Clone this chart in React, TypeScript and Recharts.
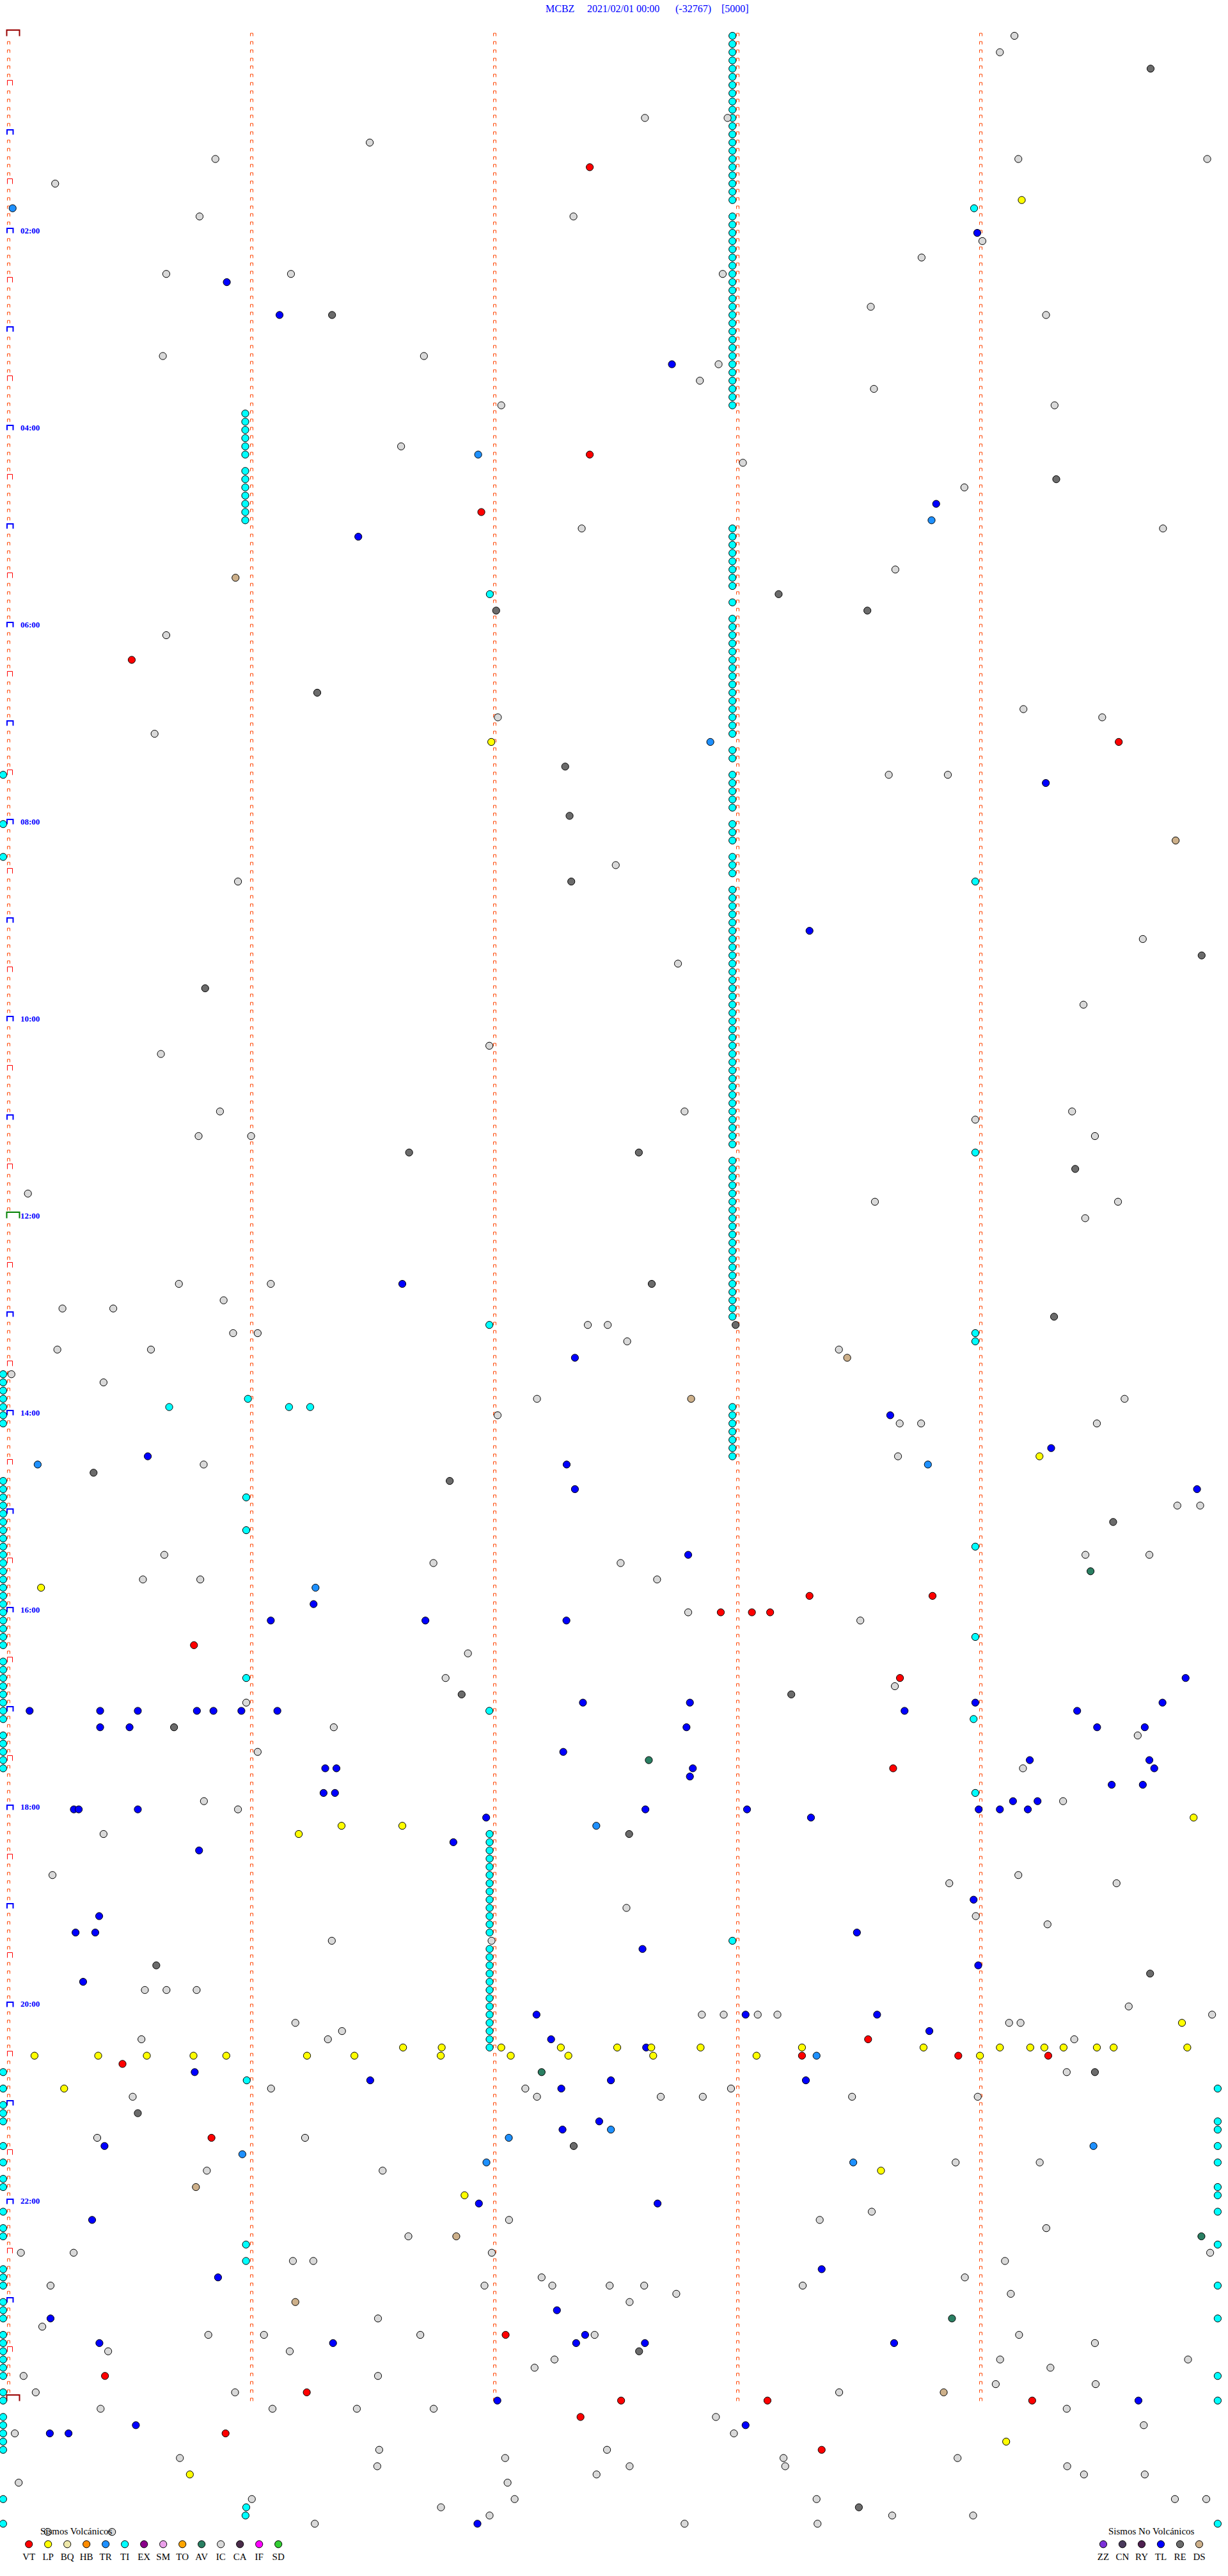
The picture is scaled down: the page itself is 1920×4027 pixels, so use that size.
import React from 'react';
import { ScatterChart, Scatter, XAxis, YAxis } from 'recharts';

type Ev = [number, number]; // [helicorder line (5-min row), minute within line]

const TITLE_PARTS = ['MCBZ', '2021/02/01 00:00', '(-32767)', '[5000]'];
const TITLE_X = [853, 918, 1056, 1128];
const HOUR_LABELS = ['02:00', '04:00', '06:00', '08:00', '10:00', '12:00', '14:00', '16:00', '18:00', '20:00', '22:00'];
const HOUR_LABEL_LINES = [24, 48, 72, 96, 120, 144, 168, 192, 216, 240, 264];
const LINES_WITH_TICKS = 288;
const TICK_COLUMNS = [0, 1, 2, 3, 4];

const VOLC_TYPES = ['VT', 'LP', 'BQ', 'HB', 'TR', 'TI', 'EX', 'SM', 'TO', 'AV', 'IC', 'CA', 'IF', 'SD'];
const VOLC_COLORS = ['#ff0000', '#ffff00', '#eee8aa', '#ff8c00', '#1e90ff', '#00ffff', '#8b008b', '#eaa0ea', '#ffa500', '#2a7f62', '#d9d9d9', '#4a2c4a', '#ff00ff', '#32cd32'];
const NONVOLC_TYPES = ['ZZ', 'CN', 'RY', 'TL', 'RE', 'DS'];
const NONVOLC_COLORS = ['#7b30d8', '#4a3a5c', '#4e2050', '#0000ff', '#6b6b6b', '#cdb08a'];

// Long TI (tremor) runs: lines where a cyan mark appears, at a fixed minute
const TI_RUN_A_MIN = 2.98;
const TI_RUN_A_LINES = [0, 1, 2, 3, 4, 5, 6, 7, 8, 9, 10, 11, 12, 13, 14, 15, 16, 17, 18, 19, 20,
  22, 23, 24, 25, 26, 27, 28, 29, 30, 31, 32, 33, 34, 35, 36, 37, 38, 39, 40, 41, 42, 43, 44, 45,
  60, 61, 62, 63, 64, 65, 66, 67, 69, 71, 72, 73, 74, 75, 76, 77, 78, 79, 80, 81, 82, 83, 84, 85,
  87, 88, 90, 91, 92, 93, 94, 96, 97, 98, 100, 101, 102,
  104, 105, 106, 107, 108, 109, 110, 111, 112, 113, 114, 115, 116, 117, 118, 119, 120, 121, 122, 123, 124, 125, 126, 127, 128, 129, 130, 131, 132, 133, 134, 135,
  137, 138, 139, 140, 141, 142, 143, 144, 145, 146, 147, 148, 149, 150, 151, 152, 153, 154, 155, 156,
  167, 168, 169, 170, 171, 172, 173, 232];
const TI_RUN_B_MIN = 0.976;
const TI_RUN_B_LINES = [46, 47, 48, 49, 50, 51, 53, 54, 55, 56, 57, 58, 59];
const TI_RUN_C_MIN = 1.981;
const TI_RUN_C_LINES = [219, 220, 221, 222, 223, 224, 225, 226, 227, 228, 229, 230, 231, 233, 234, 235, 236, 237, 238, 239, 240, 241, 242, 243, 244, 245];
const TI_LEFT_MIN = -0.02;
const TI_LEFT_LINES = [90, 96, 100, 163, 164, 165, 166, 167, 168, 169, 176, 177, 178, 179, 180, 181, 182, 183, 184, 185, 186, 187, 188, 189, 190, 191, 192, 193, 194, 195, 196,
  198, 199, 200, 201, 202, 203, 204, 205, 207, 208, 209, 210, 211,
  248, 250, 252, 253, 254, 257, 259, 261, 262, 265, 267, 268, 272, 273, 274, 276, 277, 278, 280, 281, 282, 283, 284, 285, 287, 288, 290, 291, 292, 293, 294, 300, 303];
const TI_RIGHT_MIN = 4.976;
const TI_RIGHT_LINES = [250, 254, 255, 257, 259, 262, 263, 265, 269, 274, 278, 285, 288, 303];
const TI_OTHER: Ev[] = [[21, 3.974], [68, 1.982], [103, 3.979], [136, 3.979], [157, 1.98], [158, 3.979], [159, 3.979], [166, 0.987], [167, 0.663], [167, 1.156], [167, 1.243],
  [178, 0.98], [182, 0.98], [184, 3.979], [195, 3.979], [200, 0.98], [204, 1.98], [205, 3.972], [214, 3.979], [249, 0.982], [269, 0.979], [271, 0.979], [301, 0.98], [302, 0.977]];

const IC: Ev[] = [[0, 4.14], [2, 4.08], [10, 2.62], [10, 2.96], [13, 1.488], [15, 0.853], [15, 4.933], [15, 4.156], [18, 0.194], [22, 2.326], [22, 0.788], [25, 4.008], [27, 3.758],
  [29, 0.651], [29, 1.164], [29, 2.94], [33, 3.549], [34, 4.27], [39, 0.637], [39, 1.711], [40, 2.923], [42, 2.846], [43, 3.562], [45, 2.029], [45, 4.305], [50, 1.617], [52, 3.023],
  [55, 3.934], [60, 2.36], [60, 4.751], [65, 3.65], [73, 0.651], [82, 4.177], [83, 2.015], [83, 4.501], [85, 0.603], [90, 3.623], [90, 3.866], [101, 2.5], [103, 0.946], [110, 4.668],
  [113, 2.756], [118, 4.424], [123, 1.98], [124, 0.629], [131, 0.872], [131, 2.783], [131, 4.377], [132, 3.979], [134, 0.784], [134, 1.0], [134, 4.471], [141, 0.082], [142, 3.566],
  [142, 4.566], [144, 4.431], [152, 0.703], [152, 1.081], [154, 0.887], [155, 0.224], [155, 0.433], [157, 2.385], [157, 2.467], [158, 0.926], [158, 1.027], [159, 2.547], [160, 0.203],
  [160, 0.588], [160, 3.418], [163, 0.014], [164, 0.393], [166, 2.176], [166, 4.593], [168, 2.014], [169, 3.668], [169, 3.756], [169, 4.479], [173, 3.661], [174, 0.805], [179, 4.81],
  [179, 4.904], [185, 4.432], [185, 4.695], [185, 0.643], [186, 1.75], [186, 2.52], [188, 0.555], [188, 0.791], [188, 2.67], [192, 2.798], [193, 3.506], [197, 1.892], [200, 1.8],
  [201, 3.648], [203, 0.98], [206, 1.34], [207, 4.647], [209, 1.027], [211, 4.175], [215, 0.806], [215, 4.34], [216, 0.946], [219, 0.393], [224, 0.183], [224, 4.156], [225, 3.872],
  [225, 4.56], [228, 2.544], [229, 3.981], [230, 4.276], [232, 1.332], [232, 1.989], [238, 0.563], [238, 0.652], [238, 0.776], [240, 4.61], [241, 2.854], [241, 2.944], [241, 3.084],
  [241, 3.165], [241, 4.953], [242, 1.182], [242, 4.118], [242, 4.165], [243, 1.374], [244, 1.316], [244, 0.549], [244, 4.386], [248, 4.355], [250, 1.082], [250, 2.128], [250, 2.974],
  [251, 0.513], [251, 2.176], [251, 2.685], [251, 2.858], [251, 3.472], [251, 3.989], [256, 0.367], [256, 1.222], [259, 3.898], [259, 4.244], [260, 0.818], [260, 1.541], [265, 3.553],
  [266, 2.061], [266, 3.339], [267, 4.271], [268, 1.647], [270, 0.053], [270, 0.27], [270, 1.99], [270, 4.945], [271, 1.172], [271, 1.256], [271, 4.101], [273, 2.195], [273, 3.936],
  [274, 0.175], [274, 1.96], [274, 2.239], [274, 2.475], [274, 2.617], [274, 3.269], [275, 2.749], [275, 4.125], [276, 2.557], [278, 1.522], [279, 0.141], [280, 0.824], [280, 1.053],
  [280, 1.696], [280, 2.413], [280, 4.159], [281, 4.471], [282, 0.412], [282, 1.159], [283, 2.248], [283, 4.081], [283, 4.854], [284, 2.166], [284, 4.288], [285, 0.064], [285, 1.522],
  [286, 4.063], [286, 4.474], [287, 0.114], [287, 0.934], [287, 3.419], [289, 0.381], [289, 1.088], [289, 1.435], [289, 1.751], [289, 4.355], [290, 2.912], [291, 4.672], [292, 0.028],
  [292, 2.986], [294, 1.527], [294, 2.464], [295, 0.707], [295, 2.045], [295, 3.19], [295, 3.906], [296, 1.519], [296, 2.557], [296, 3.197], [296, 4.357], [297, 2.421], [297, 4.426],
  [297, 4.676], [298, 0.044], [298, 2.055], [300, 1.003], [300, 2.084], [300, 3.326], [300, 4.8], [300, 4.929], [301, 1.781], [302, 1.981], [302, 3.637], [302, 3.97], [303, 1.262],
  [303, 2.783], [303, 3.33], [304, 0.164], [304, 0.428]];

const TL: Ev[] = [[24, 3.987], [30, 0.9], [34, 1.117], [40, 2.731], [57, 3.818], [61, 1.441], [91, 4.269], [109, 3.297], [152, 1.622], [161, 2.332], [168, 3.629], [172, 4.291],
  [173, 0.575], [174, 2.298], [177, 2.332], [177, 4.891], [185, 2.798], [191, 1.257], [193, 1.081], [193, 1.717], [193, 2.297], [200, 4.844], [203, 2.365], [203, 2.805], [203, 3.979],
  [203, 4.749], [204, 4.398], [204, 0.089], [204, 0.379], [204, 0.534], [204, 0.777], [204, 0.845], [204, 0.96], [204, 1.108], [204, 3.688], [206, 0.379], [206, 0.5], [206, 2.791],
  [206, 4.676], [206, 4.48], [209, 2.284], [210, 4.203], [210, 4.695], [211, 2.817], [211, 1.305], [211, 1.351], [211, 4.715], [212, 2.805], [213, 4.54], [213, 4.668], [214, 1.298],
  [214, 1.345], [215, 4.134], [215, 4.235], [216, 0.271], [216, 0.291], [216, 0.534], [216, 3.04], [216, 3.993], [216, 4.08], [216, 4.195], [216, 2.622], [217, 3.303], [217, 1.967],
  [220, 1.832], [221, 0.786], [227, 3.972], [229, 0.375], [231, 0.278], [231, 0.359], [231, 3.492], [233, 2.61], [235, 3.991], [237, 0.309], [241, 2.174], [241, 3.034], [241, 3.575],
  [243, 3.79], [244, 2.234], [245, 2.625], [248, 0.768], [249, 1.49], [249, 2.48], [249, 3.282], [250, 2.276], [254, 2.432], [255, 2.281], [257, 0.397], [264, 1.937], [264, 2.672],
  [266, 0.346], [272, 3.347], [273, 0.864], [277, 2.258], [278, 0.175], [280, 2.374], [281, 0.376], [281, 1.337], [281, 2.337], [281, 2.62], [281, 3.645], [288, 2.013], [288, 4.65],
  [291, 0.526], [291, 3.034], [292, 0.172], [292, 0.249], [303, 1.931]];

const VT: Ev[] = [[16, 2.393], [51, 2.393], [58, 1.947], [76, 0.509], [86, 4.569], [190, 3.297], [190, 3.803], [192, 2.932], [192, 3.06], [192, 3.135], [196, 0.765], [200, 3.669],
  [211, 3.641], [244, 3.538], [246, 3.266], [246, 3.909], [246, 4.279], [247, 0.471], [256, 0.837], [280, 2.047], [285, 0.399], [287, 1.229], [288, 2.522], [288, 3.124], [288, 4.213],
  [290, 2.355], [292, 0.895], [294, 3.347]];

const LP: Ev[] = [[20, 4.17], [86, 1.988], [173, 4.243], [189, 0.136], [217, 4.877], [219, 1.196], [218, 1.372], [218, 1.622],
  [245, 1.625], [245, 1.784], [245, 2.029], [245, 2.274], [245, 2.506], [245, 2.646], [245, 2.849], [245, 3.266], [245, 3.766], [245, 4.08], [245, 4.205], [245, 4.263], [245, 4.342],
  [245, 4.479], [245, 4.548], [245, 4.851], [246, 0.109], [246, 0.371], [246, 0.571], [246, 0.763], [246, 0.898], [246, 1.23], [246, 1.425], [246, 1.78], [246, 2.068], [246, 2.305],
  [246, 2.654], [246, 3.079], [246, 3.998], [242, 4.829], [250, 0.231], [260, 3.591], [263, 1.878], [293, 4.106], [297, 0.748]];

const RE: Ev[] = [[4, 4.7], [34, 1.333], [54, 4.312], [68, 3.17], [70, 2.008], [70, 3.535], [80, 1.272], [89, 2.292], [95, 2.31], [103, 2.317], [112, 4.91], [116, 0.811],
  [136, 1.65], [136, 2.595], [138, 4.39], [152, 2.648], [156, 4.303], [157, 2.993], [175, 0.352], [176, 1.817], [181, 4.546], [202, 1.866], [202, 3.222], [206, 0.683], [219, 2.555],
  [235, 0.61], [236, 4.698], [248, 4.471], [253, 0.534], [257, 2.327], [282, 2.596], [301, 3.5]];

const TR: Ev[] = [[21, 0.019], [51, 1.934], [59, 3.799], [86, 2.889], [174, 0.122], [174, 3.784], [189, 1.265], [218, 2.42], [246, 3.326], [255, 2.48], [256, 2.06], [258, 0.964],
  [259, 1.968], [259, 3.477], [257, 4.465]];

const DS: Ev[] = [[66, 0.936], [98, 4.803], [161, 3.452], [166, 2.81], [262, 0.773], [268, 1.844], [276, 1.182], [287, 3.849]];

const AV: Ev[] = [[187, 4.453], [210, 2.636], [248, 2.195], [268, 4.909], [278, 3.883]];

const X_DOMAIN: [number, number] = [-0.0329, 5];
const Y_DOMAIN: [number, number] = [-4, 305];

const runToEvents = (lines: number[], minute: number): Ev[] => lines.map((l) => [l, minute] as Ev);

const TI_ALL: Ev[] = [
  ...runToEvents(TI_RUN_A_LINES, TI_RUN_A_MIN),
  ...runToEvents(TI_RUN_B_LINES, TI_RUN_B_MIN),
  ...runToEvents(TI_RUN_C_LINES, TI_RUN_C_MIN),
  ...runToEvents(TI_LEFT_LINES, TI_LEFT_MIN),
  ...runToEvents(TI_RIGHT_LINES, TI_RIGHT_MIN),
  ...TI_OTHER,
];

const SERIES: { name: string; color: string; events: Ev[] }[] = [
  { name: 'TI', color: '#00ffff', events: TI_ALL },
  { name: 'IC', color: '#d9d9d9', events: IC },
  { name: 'TL', color: '#0000ff', events: TL },
  { name: 'RE', color: '#6b6b6b', events: RE },
  { name: 'TR', color: '#1e90ff', events: TR },
  { name: 'DS', color: '#cdb08a', events: DS },
  { name: 'AV', color: '#2a7f62', events: AV },
  { name: 'LP', color: '#ffff00', events: LP },
  { name: 'VT', color: '#ff0000', events: VT },
];

type Tick = { m: number; r: number; kind: string };
const TICKS: Tick[] = [];
for (let r = 0; r <= LINES_WITH_TICKS; r++) {
  for (const c of TICK_COLUMNS) {
    let kind = 'small';
    if (c === 0) {
      if (r === 0 || r === LINES_WITH_TICKS) kind = 'day';
      else if (r === 144) kind = 'noon';
      else if (r % 12 === 0) kind = 'hour';
      else if (r % 6 === 0) kind = 'half';
    }
    TICKS.push({ m: c, r, kind });
  }
}

const HOUR_POINTS = HOUR_LABELS.map((label, i) => ({ m: 0, r: HOUR_LABEL_LINES[i], label }));

const TickShape = (props: any) => {
  const { cx, cy, payload } = props;
  if (cx == null || cy == null) return null;
  const X = Math.round(cx);
  const B = Math.round(cy) + 0.5;
  const k = payload.kind;
  if (k === 'small') {
    return <path d={`M${X - 2 + 0.5},${B} V${B - 4.5} H${X + 2 + 0.5} V${B}`} stroke="#ff4500" strokeWidth={1} fill="none" />;
  }
  if (k === 'half') {
    return <path d={`M${X - 2 + 0.5},${B} V${B - 8} H${X + 6 + 0.5} V${B}`} stroke="#ff0000" strokeWidth={1} fill="none" />;
  }
  if (k === 'hour') {
    return <path d={`M${X - 2},${B} V${B - 7.5} H${X + 7.5} V${B}`} stroke="#0000ff" strokeWidth={2} fill="none" />;
  }
  const col = k === 'day' ? '#990000' : '#008000';
  return <path d={`M${X - 2.5},${B} V${B - 9.5} H${X + 17.5} V${B}`} stroke={col} strokeWidth={2} fill="none" />;
};

const HourLabelShape = (props: any) => {
  const { cx, cy, payload } = props;
  if (cx == null || cy == null) return null;
  return (
    <text x={cx + 19.5} y={cy + 0.5} fill="#0000ff" fontFamily="'Liberation Serif', 'Times New Roman', serif" fontWeight="bold" fontSize={13}>
      {payload.label}
    </text>
  );
};

const makeDot = (color: string) => (props: any) => {
  const { cx, cy } = props;
  if (cx == null || cy == null) return null;
  return <circle cx={cx} cy={cy} r={5.6} fill={color} stroke="#000" strokeWidth={1} />;
};

const serif = "'Liberation Serif', 'Times New Roman', serif";

const Overlay = () => (
  <svg width={1920} height={4027} style={{ position: 'absolute', left: 0, top: 0, pointerEvents: 'none' }}>
    {TITLE_PARTS.map((t, i) => (
      <text key={t} x={TITLE_X[i]} y={19} fill="#0000ff" fontFamily={serif} fontSize={16}>{t}</text>
    ))}
    <text x={63} y={3962} fontFamily={serif} fontSize={15} fill="#000">Sismos Volcánicos</text>
    {VOLC_TYPES.map((t, i) => (
      <g key={t}>
        <circle cx={45.2 + 30 * i} cy={3977.3} r={5.6} fill={VOLC_COLORS[i]} stroke="#000" strokeWidth={1} />
        <text x={45.2 + 30 * i} y={4001.5} textAnchor="middle" fontFamily={serif} fontSize={15} fill="#000">{t}</text>
      </g>
    ))}
    <text x={1733} y={3962} fontFamily={serif} fontSize={15} fill="#000">Sismos No Volcánicos</text>
    {NONVOLC_TYPES.map((t, i) => (
      <g key={t}>
        <circle cx={1725 + 30 * i} cy={3977.3} r={5.6} fill={NONVOLC_COLORS[i]} stroke="#000" strokeWidth={1} />
        <text x={1725 + 30 * i} y={4001.5} textAnchor="middle" fontFamily={serif} fontSize={15} fill="#000">{t}</text>
      </g>
    ))}
  </svg>
);

export default function App() {
  return (
    <div style={{ position: 'absolute', left: 0, top: 0, width: 1920, height: 4027, background: '#fff' }}>
      <ScatterChart width={1920} height={4027} margin={{ top: 4.656, right: 7, bottom: 56.05, left: 0 }}>
        <XAxis type="number" dataKey="m" domain={X_DOMAIN} hide />
        <YAxis type="number" dataKey="r" domain={Y_DOMAIN} reversed hide />
        <Scatter data={TICKS} shape={TickShape} isAnimationActive={false} />
        <Scatter data={HOUR_POINTS} shape={HourLabelShape} isAnimationActive={false} />
        {SERIES.map((s) => (
          <Scatter
            key={s.name}
            name={s.name}
            data={s.events.map(([r, m]) => ({ r, m }))}
            shape={makeDot(s.color)}
            isAnimationActive={false}
          />
        ))}
      </ScatterChart>
      <Overlay />
    </div>
  );
}
